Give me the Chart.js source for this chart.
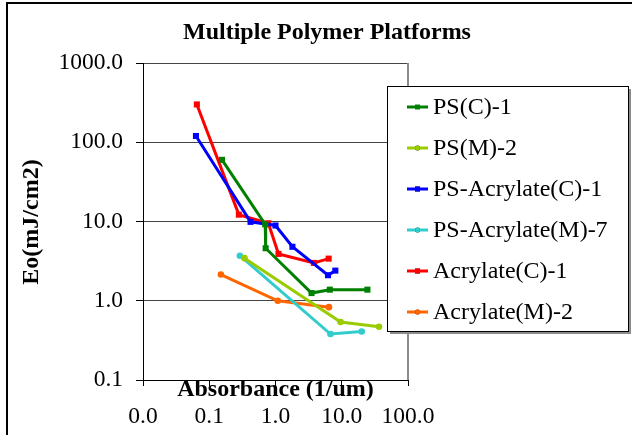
<!DOCTYPE html>
<html>
<head>
<meta charset="utf-8">
<script src="https://cdn.jsdelivr.net/npm/chart.js@4/dist/chart.umd.min.js"></script>
<style>
    html, body { margin: 0; padding: 0; background: #fff; }
    canvas { display: block; }
</style>
</head>
<body>
<canvas id="chart" width="632" height="435"></canvas>
<script>
// Absorbance (1/um) vs Eo (mJ/cm2), log-log
const seriesNames = ["PS(C)-1", "PS(M)-2", "PS-Acrylate(C)-1", "PS-Acrylate(M)-7", "Acrylate(C)-1", "Acrylate(M)-2"];
const seriesColors = ["#008000", "#99CC00", "#0000FF", "#33CCCC", "#FF0000", "#FF6600"];
const seriesMarkers = ["rect", "circle", "rect", "circle", "rect", "circle"];

const psC1X = [0.156, 0.70, 0.71, 3.5, 6.6, 24.4];
const psC1Y = [60, 9.2, 4.6, 1.25, 1.38, 1.38];
const psM2X = [0.34, 9.6, 36.5];
const psM2Y = [3.45, 0.54, 0.47];
const psAcrC1X = [0.063, 0.42, 1.0, 1.8, 6.2, 8.0];
const psAcrC1Y = [120, 9.9, 8.9, 4.8, 2.1, 2.4];
const psAcrM7X = [0.29, 6.75, 20.0];
const psAcrM7Y = [3.7, 0.38, 0.41];
const acrC1X = [0.065, 0.28, 0.78, 1.11, 3.8, 6.35];
const acrC1Y = [300, 12.2, 9.5, 3.9, 3.0, 3.4];
const acrM2X = [0.15, 1.08, 6.4];
const acrM2Y = [2.14, 1.0, 0.83];

const seriesX = [psC1X, psM2X, psAcrC1X, psAcrM7X, acrC1X, acrM2X];
const seriesY = [psC1Y, psM2Y, psAcrC1Y, psAcrM7Y, acrC1Y, acrM2Y];

const xTicks = [0.01, 0.1, 1, 10, 100];
const yTicks = [0.1, 1, 10, 100, 1000];

const SERIF = "'Liberation Serif', 'Times New Roman', serif";

function pointRadius(style) {
    return style === "rect" ? 4.3 : 3.3;
}

const datasets = seriesNames.map((name, i) => ({
    label: name,
    data: seriesX[i].map((x, j) => ({ x: x, y: seriesY[i][j] })),
    showLine: true,
    borderColor: seriesColors[i],
    backgroundColor: seriesColors[i],
    borderWidth: 3,
    pointStyle: seriesMarkers[i],
    pointRadius: pointRadius(seriesMarkers[i]),
    pointBorderWidth: 0,
    pointHoverRadius: pointRadius(seriesMarkers[i]),
}));

// frame, titles and the boxed legend sitting over the plot
const decorations = {
    id: "decorations",
    beforeDraw(chart) {
        const ctx = chart.ctx;
        ctx.save();
        ctx.fillStyle = "#fff";
        ctx.fillRect(0, 0, chart.width, chart.height);
        ctx.restore();
    },
    afterDraw(chart) {
        const ctx = chart.ctx;
        const area = chart.chartArea;
        ctx.save();

        // right edge of the plot
        ctx.strokeStyle = "#8c8c8c";
        ctx.lineWidth = 2;
        ctx.beginPath();
        ctx.moveTo(area.right, area.top);
        ctx.lineTo(area.right, area.bottom);
        ctx.stroke();

        // outer frame
        ctx.strokeStyle = "#000";
        ctx.lineWidth = 2;
        ctx.strokeRect(7, 3, chart.width - 6, chart.height - 2);

        // chart title
        ctx.fillStyle = "#000";
        ctx.font = "bold 24px " + SERIF;
        ctx.textAlign = "center";
        ctx.textBaseline = "alphabetic";
        ctx.fillText("Multiple Polymer Platforms", 327, 39);

        // x axis title
        ctx.fillText("Absorbance (1/um)", (area.left + area.right) / 2, 396);

        // y axis title
        ctx.save();
        ctx.translate(38, 222);
        ctx.rotate(-Math.PI / 2);
        ctx.fillText("Eo(mJ/cm2)", 0, 0);
        ctx.restore();

        // legend box with shadow
        const lx = 387, ly = 86, lw = 241, lh = 245;
        ctx.fillStyle = "#8c8c8c";
        ctx.fillRect(lx + 3, ly + 3, lw, lh);
        ctx.fillStyle = "#fff";
        ctx.fillRect(lx, ly, lw, lh);
        ctx.strokeStyle = "#000";
        ctx.lineWidth = 1;
        ctx.strokeRect(lx + 0.5, ly + 0.5, lw, lh);

        ctx.font = "24px " + SERIF;
        ctx.textAlign = "left";
        ctx.textBaseline = "middle";
        chart.data.datasets.forEach((ds, i) => {
            const y = 107 + i * 41;
            ctx.strokeStyle = ds.borderColor;
            ctx.lineWidth = 3;
            ctx.beginPath();
            ctx.moveTo(407, y);
            ctx.lineTo(428, y);
            ctx.stroke();
            Chart.helpers.drawPoint(ctx, {
                pointStyle: ds.pointStyle,
                radius: ds.pointRadius - 0.8,
                borderWidth: 0,
                rotation: 0,
            }, 417.5, y);
            ctx.fillStyle = ds.backgroundColor;
            ctx.fill();
            ctx.fillStyle = "#000";
            ctx.fillText(ds.label, 433, y + 1);
        });

        ctx.restore();
    }
};

new Chart(document.getElementById("chart"), {
    type: "scatter",
    data: { datasets: datasets },
    options: {
        responsive: false,
        devicePixelRatio: 1,
        animation: false,
        layout: { padding: { left: 0, top: 63, right: 224, bottom: 0 } },
        plugins: {
            legend: { display: false },
            title: { display: false },
            tooltip: { enabled: false },
        },
        scales: {
            x: {
                type: "logarithmic",
                min: 0.01,
                max: 100,
                afterBuildTicks: (scale) => { scale.ticks = xTicks.map(v => ({ value: v })); },
                afterFit: (scale) => { scale.height = 55; },
                border: { color: "#000", width: 1 },
                grid: { drawOnChartArea: false, drawTicks: true, tickLength: 6, tickColor: "#000" },
                ticks: {
                    color: "#000",
                    font: { family: SERIF, size: 23.5 },
                    padding: 17,
                    maxRotation: 0,
                    autoSkip: false,
                    callback: (value) => Number(value).toFixed(1),
                },
            },
            y: {
                type: "logarithmic",
                min: 0.1,
                max: 1000,
                afterBuildTicks: (scale) => { scale.ticks = yTicks.map(v => ({ value: v })); },
                afterFit: (scale) => { scale.width = 143; },
                border: { color: "#000", width: 1 },
                grid: { color: "#444", lineWidth: 1, drawTicks: true, tickLength: 7, tickColor: "#000" },
                ticks: {
                    color: "#000",
                    font: { family: SERIF, size: 23.5 },
                    padding: 13,
                    autoSkip: false,
                    callback: (value) => Number(value).toFixed(1),
                },
            },
        },
    },
    plugins: [decorations],
});
</script>
</body>
</html>
